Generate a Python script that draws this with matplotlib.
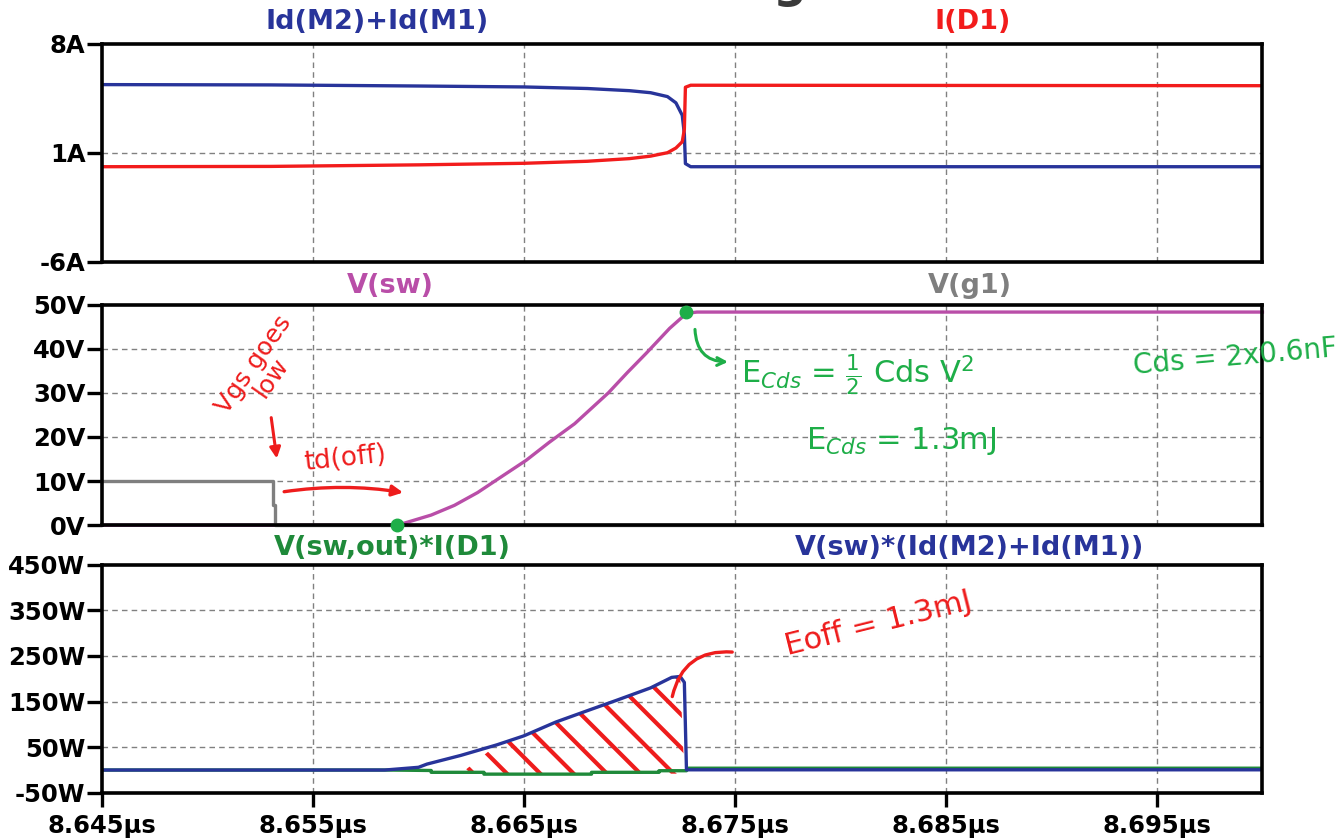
import matplotlib
matplotlib.use("Agg")
import matplotlib.pyplot as plt

# ---- data (time in us) ----
t_i = [8.645, 8.653, 8.660, 8.665, 8.668, 8.670, 8.671, 8.6718, 8.6722, 8.6725, 8.6726, 8.67265, 8.6729, 8.700]
i_m = [5.37, 5.35, 5.28, 5.22, 5.12, 4.98, 4.85, 4.60, 4.20, 3.40, 2.20, 0.30, 0.10, 0.10]
i_d1 = [0.10, 0.12, 0.22, 0.32, 0.45, 0.62, 0.78, 1.00, 1.30, 1.70, 2.50, 5.20, 5.33, 5.30]

t_g1 = [8.645, 8.6531, 8.6531, 8.6532, 8.6532, 8.700]
v_g1 = [10, 10, 4.5, 4.5, 0, 0]

t_sw = [8.645, 8.6590, 8.6606, 8.6617, 8.6628, 8.6639, 8.6651, 8.6662, 8.6674,
        8.6690, 8.6699, 8.6708, 8.6719, 8.6727, 8.6732, 8.700]
v_sw = [0, 0, 2.3, 4.5, 7.4, 10.9, 14.7, 18.8, 23, 30, 34.6, 39, 44.6, 48, 48.3, 48.3]

t_pm = [8.645, 8.6584, 8.6600, 8.6604, 8.6620, 8.6637, 8.6650, 8.6665, 8.6680,
        8.6694, 8.6710, 8.6720, 8.6724, 8.6726, 8.6727, 8.700]
p_m = [0, 0, 6, 13, 32, 55, 75, 105, 130, 153, 180, 203, 205, 192, 0.5, 0.5]

t_pd = [8.645, 8.6585, 8.6606, 8.6606, 8.6631, 8.6631, 8.6682, 8.6682, 8.6714, 8.6714, 8.6727, 8.6728, 8.700]
p_d = [0, 0, -1, -5, -5, -9, -9, -5, -5, -1.5, -1.5, 4, 4]

x_ticks = [8.645, 8.655, 8.665, 8.675, 8.685, 8.695]
x_labels = ["8.645\u00b5s", "8.655\u00b5s", "8.665\u00b5s", "8.675\u00b5s", "8.685\u00b5s", "8.695\u00b5s"]

BLUE = "#28349a"
RED = "#f21c1c"
MAG = "#b94ea8"
GRAY = "#7f7f7f"
GREEN = "#1f8a3a"
HAND_R = "#ee1c1c"
HAND_G = "#1eae48"

plt.rcParams["font.family"] = ["DejaVu Sans"]
plt.rcParams["hatch.linewidth"] = 3.0
fig = plt.figure(figsize=(13.43, 8.39), dpi=100)

def setup(ax, ylim, yticks, ylabels, hgrid):
    ax.set_xlim(8.645, 8.700)
    ax.set_ylim(*ylim)
    ax.set_yticks(yticks)
    ax.set_yticklabels(ylabels, fontsize=17.5, fontweight="bold")
    ax.set_xticks(x_ticks)
    for s in ax.spines.values():
        s.set_linewidth(2.6)
        s.set_color("black")
    ax.tick_params(axis="y", direction="out", length=11, width=2.4, pad=1)
    for x in x_ticks[1:]:
        ax.axvline(x, color="#808080", lw=1, ls=(0, (4, 3)), zorder=0)
    for y in hgrid:
        ax.axhline(y, color="#808080", lw=1, ls=(0, (4, 3)), zorder=0)

# top panel: currents
ax1 = fig.add_axes([0.076, 0.688, 0.864, 0.260])
setup(ax1, (-6, 8), [-6, 1, 8], ["-6A", "1A", "8A"], [1])
ax1.tick_params(axis="x", length=0, labelbottom=False)
ax1.plot(t_i, i_m, color=BLUE, lw=2.4)
ax1.plot(t_i, i_d1, color=RED, lw=2.4)

# middle panel: voltages
ax2 = fig.add_axes([0.076, 0.374, 0.864, 0.263])
setup(ax2, (0, 50), [0, 10, 20, 30, 40, 50], ["0V", "10V", "20V", "30V", "40V", "50V"], [10, 20, 30, 40])
ax2.tick_params(axis="x", length=0, labelbottom=False)
ax2.plot(t_sw, v_sw, color=MAG, lw=2.4, clip_on=False)
ax2.plot(t_g1, v_g1, color=GRAY, lw=2.4, clip_on=False)

# bottom panel: power
ax3 = fig.add_axes([0.076, 0.055, 0.864, 0.272])
setup(ax3, (-50, 450), [-50, 50, 150, 250, 350, 450],
      ["-50W", "50W", "150W", "250W", "350W", "450W"], [50, 150, 250, 350])
ax3.set_xticklabels(x_labels, fontsize=17.5, fontweight="bold")
ax3.tick_params(axis="x", direction="out", length=10, width=2.4, pad=5)
ax3.plot(t_pd, p_d, color=GREEN, lw=2.4)
ax3.plot(t_pm, p_m, color=BLUE, lw=2.4)

# trace names
tkw = dict(fontsize=19.5, fontweight="bold", ha="center", va="center")
fig.text(0.281, 0.974, "Id(M2)+Id(M1)", color=BLUE, **tkw)
fig.text(0.724, 0.974, "I(D1)", color=RED, **tkw)
fig.text(0.291, 0.659, "V(sw)", color=MAG, **tkw)
fig.text(0.722, 0.659, "V(g1)", color=GRAY, **tkw)
fig.text(0.292, 0.347, "V(sw,out)*I(D1)", color=GREEN, **tkw)
fig.text(0.722, 0.347, "V(sw)*(Id(M2)+Id(M1))", color=BLUE, **tkw)
# bottom of a cut-off heading glyph at the very top edge
fig.text(0.588, 1.004, "g", fontsize=34, fontweight="bold", color="#3a3a3a", ha="center", va="baseline")

# hand annotations, middle panel
ax2.text(8.6526, 35, "Vgs goes\nlow", color=HAND_R, fontsize=18, rotation=55,
         ha="center", va="center", linespacing=0.9)
ax2.annotate("", xy=(8.6533, 14.5), xytext=(8.6530, 25),
             arrowprops=dict(arrowstyle="-|>", color=HAND_R, lw=2.2, mutation_scale=16))
ax2.text(8.6565, 15, "td(off)", color=HAND_R, fontsize=19, rotation=6, ha="center", va="center")
ax2.annotate("", xy=(8.6594, 7.3), xytext=(8.6535, 7.5),
             arrowprops=dict(arrowstyle="-|>", color=HAND_R, lw=2.4, mutation_scale=16,
                             connectionstyle="arc3,rad=-0.08"))
ax2.plot([8.6590, 8.6727], [0, 48.3], "o", color=HAND_G, ms=9, ls="none", clip_on=False, zorder=5)
ax2.annotate("", xy=(8.6748, 37), xytext=(8.6731, 45),
             arrowprops=dict(arrowstyle="->", color=HAND_G, lw=2.2, mutation_scale=14,
                             connectionstyle="arc3,rad=0.5"))
ax2.text(8.6808, 34, r"E$_{Cds}$ = $\frac{1}{2}$ Cds V$^2$", color=HAND_G, fontsize=22,
         ha="center", va="center")
ax2.text(8.6829, 19, r"E$_{Cds}$ = 1.3mJ", color=HAND_G, fontsize=22, ha="center", va="center")
ax2.text(8.6987, 38, "Cds = 2x0.6nF", color=HAND_G, fontsize=20, rotation=5,
         ha="center", va="center", clip_on=False)

# hand annotations, bottom panel
ax3.fill_between(t_pm, -8, p_m, where=[8.6634 <= t <= 8.6725 for t in t_pm], interpolate=True,
                 facecolor="none", edgecolor=HAND_R, hatch="\\", lw=0, zorder=1)
ax3.annotate("", xy=(8.6750, 258), xytext=(8.6720, 155),
             arrowprops=dict(arrowstyle="-", color=HAND_R, lw=2.4,
                             connectionstyle="arc3,rad=-0.45"))
ax3.text(8.6818, 320, "Eoff = 1.3mJ", color=HAND_R, fontsize=22, rotation=14,
         ha="center", va="center")

fig.savefig("out.png", dpi=100)
